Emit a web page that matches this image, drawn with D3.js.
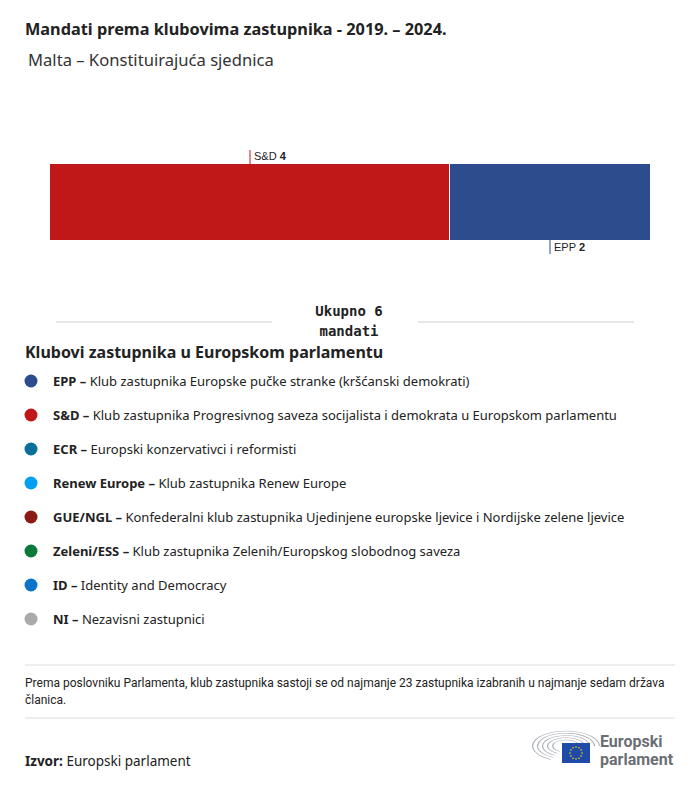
<!DOCTYPE html>
<html>
<head>
<meta charset="utf-8">
<script src="https://cdn.jsdelivr.net/npm/d3@7"></script>
<style>
  body { margin: 0; background: #fff; }
  svg { font-family: "Noto Sans", Roboto, sans-serif; }
</style>
</head>
<body>
<svg width="700" height="786"></svg>
<script>
// data
var groups = ["S&D", "EPP"];
var seats = [4, 2];
var barColors = ["#c01818", "#2c4c8e"];

var legendKeys = ["EPP", "S&D", "ECR", "Renew Europe", "GUE/NGL", "Zeleni/ESS", "ID", "NI"];
var legendNames = [
  "Klub zastupnika Europske pučke stranke (kršćanski demokrati)",
  "Klub zastupnika Progresivnog saveza socijalista i demokrata u Europskom parlamentu",
  "Europski konzervativci i reformisti",
  "Klub zastupnika Renew Europe",
  "Konfederalni klub zastupnika Ujedinjene europske ljevice i Nordijske zelene ljevice",
  "Klub zastupnika Zelenih/Europskog slobodnog saveza",
  "Identity and Democracy",
  "Nezavisni zastupnici"
];
var legendColors = ["#2c4c8e", "#c01818", "#0a6f9a", "#00a0f0", "#8b1a14", "#0a7a3a", "#0a75c8", "#aaaaaa"];

var svg = d3.select("svg");

// TITLE

svg.append("text")
    .attr("x", 25).attr("y", 35)
    .attr("font-size", 16.3).attr("font-weight", "bold").attr("fill", "#222")
    .text("Mandati prema klubovima zastupnika - 2019. – 2024.");

svg.append("text")
    .attr("x", 28).attr("y", 66)
    .attr("font-size", 16.6).attr("fill", "#333")
    .text("Malta – Konstituirajuća sjednica");

// BAR

var total = d3.sum(seats);
var starts = d3.cumsum([0].concat(seats)).slice(0, seats.length);

var x = d3.scaleLinear().domain([0, total]).range([50, 650]);
var barTop = 164, barH = 76;

svg.append("g").selectAll("rect")
    .data(seats)
    .enter().append("rect")
      .attr("x", function(d, i) { return x(starts[i]); })
      .attr("y", barTop)
      .attr("width", function(d, i) { return x(starts[i] + d) - x(starts[i]) - (i < seats.length - 1 ? 1 : 0); })
      .attr("height", barH)
      .attr("fill", function(d, i) { return barColors[i]; });

// labels alternate above / below
var lab = svg.append("g").selectAll("g")
    .data(seats)
    .enter().append("g");

lab.append("line")
    .attr("x1", function(d, i) { return x(starts[i] + d / 2); })
    .attr("x2", function(d, i) { return x(starts[i] + d / 2); })
    .attr("y1", function(d, i) { return i % 2 == 0 ? barTop - 14 : barTop + barH; })
    .attr("y2", function(d, i) { return i % 2 == 0 ? barTop : barTop + barH + 14; })
    .attr("stroke", function(d, i) { return barColors[i]; });

var labText = lab.append("text")
    .attr("x", function(d, i) { return x(starts[i] + d / 2) + 4; })
    .attr("y", function(d, i) { return i % 2 == 0 ? barTop - 4 : barTop + barH + 11; })
    .attr("font-size", 11).attr("fill", "#222")
    .attr("font-family", "'Liberation Sans', Arial, sans-serif");
labText.append("tspan").text(function(d, i) { return groups[i] + " "; });
labText.append("tspan").attr("font-weight", "bold").text(function(d) { return d; });

// TOTAL

svg.append("line").attr("x1", 56).attr("x2", 272).attr("y1", 322).attr("y2", 322)
    .attr("stroke", "#ccc");
svg.append("line").attr("x1", 418).attr("x2", 634).attr("y1", 322).attr("y2", 322)
    .attr("stroke", "#ccc");

var tot = svg.append("text")
    .attr("text-anchor", "middle")
    .attr("font-family", "'DejaVu Sans Mono', monospace")
    .attr("font-size", 14).attr("font-weight", "bold").attr("fill", "#222");
tot.append("tspan").attr("x", 349).attr("y", 316).text("Ukupno " + total);
tot.append("tspan").attr("x", 349).attr("y", 336).text("mandati");

// LEGEND

svg.append("text")
    .attr("x", 25).attr("y", 358)
    .attr("font-size", 16).attr("font-weight", "bold").attr("fill", "#222")
    .text("Klubovi zastupnika u Europskom parlamentu");

var leg = svg.append("g").selectAll("g")
    .data(legendKeys)
    .enter().append("g")
      .attr("transform", function(d, i) { return "translate(0," + (381 + i * 34) + ")"; });

leg.append("circle")
    .attr("cx", 31).attr("cy", 0).attr("r", 6.5)
    .attr("fill", function(d, i) { return legendColors[i]; });

var legText = leg.append("text")
    .attr("x", 53).attr("y", 4.5)
    .attr("font-size", 13).attr("fill", "#222");
legText.append("tspan").attr("font-weight", "bold").text(function(d) { return d + " – "; });
legText.append("tspan").text(function(d, i) { return legendNames[i]; });

// FOOTER

svg.append("line").attr("x1", 25).attr("x2", 675).attr("y1", 665).attr("y2", 665)
    .attr("stroke", "#ddd");
svg.append("line").attr("x1", 25).attr("x2", 675).attr("y1", 718).attr("y2", 718)
    .attr("stroke", "#ddd");

var note = svg.append("text")
    .attr("font-size", 12).attr("fill", "#222")
    .attr("font-family", "Roboto, sans-serif");
note.append("tspan").attr("x", 25).attr("y", 687)
    .text("Prema poslovniku Parlamenta, klub zastupnika sastoji se od najmanje 23 zastupnika izabranih u najmanje sedam država");
note.append("tspan").attr("x", 25).attr("y", 704).text("članica.");

var src = svg.append("text")
    .attr("x", 25).attr("y", 766)
    .attr("font-size", 13.5).attr("fill", "#222");
src.append("tspan").attr("font-weight", "bold").text("Izvor: ");
src.append("tspan").text("Europski parlament");

// LOGO

var logo = svg.append("g").attr("transform", "translate(530,730)");
[34, 29, 24, 19, 14].forEach(function(r) {
  logo.append("path")
      .attr("d", d3.arc()({ innerRadius: r - 1.2, outerRadius: r, startAngle: -Math.PI * 0.85, endAngle: Math.PI * 0.5 }))
      .attr("transform", "translate(36,16) scale(1,0.45)")
      .attr("fill", "#a9aeb5");
});
logo.append("rect").attr("x", 32).attr("y", 13).attr("width", 28).attr("height", 20).attr("fill", "#1f4aa8");
d3.range(12).forEach(function(k) {
  var a = k / 12 * 2 * Math.PI;
  logo.append("circle")
      .attr("cx", 46 + 6 * Math.cos(a)).attr("cy", 23 + 6 * Math.sin(a))
      .attr("r", 0.8).attr("fill", "#ffd800");
});
var lt = logo.append("text")
    .attr("font-size", 16).attr("font-weight", "bold").attr("fill", "#6b6f75")
    .attr("font-family", "Roboto, sans-serif");
lt.append("tspan").attr("x", 70).attr("y", 17).text("Europski");
lt.append("tspan").attr("x", 70).attr("y", 35).text("parlament");
</script>
</body>
</html>
